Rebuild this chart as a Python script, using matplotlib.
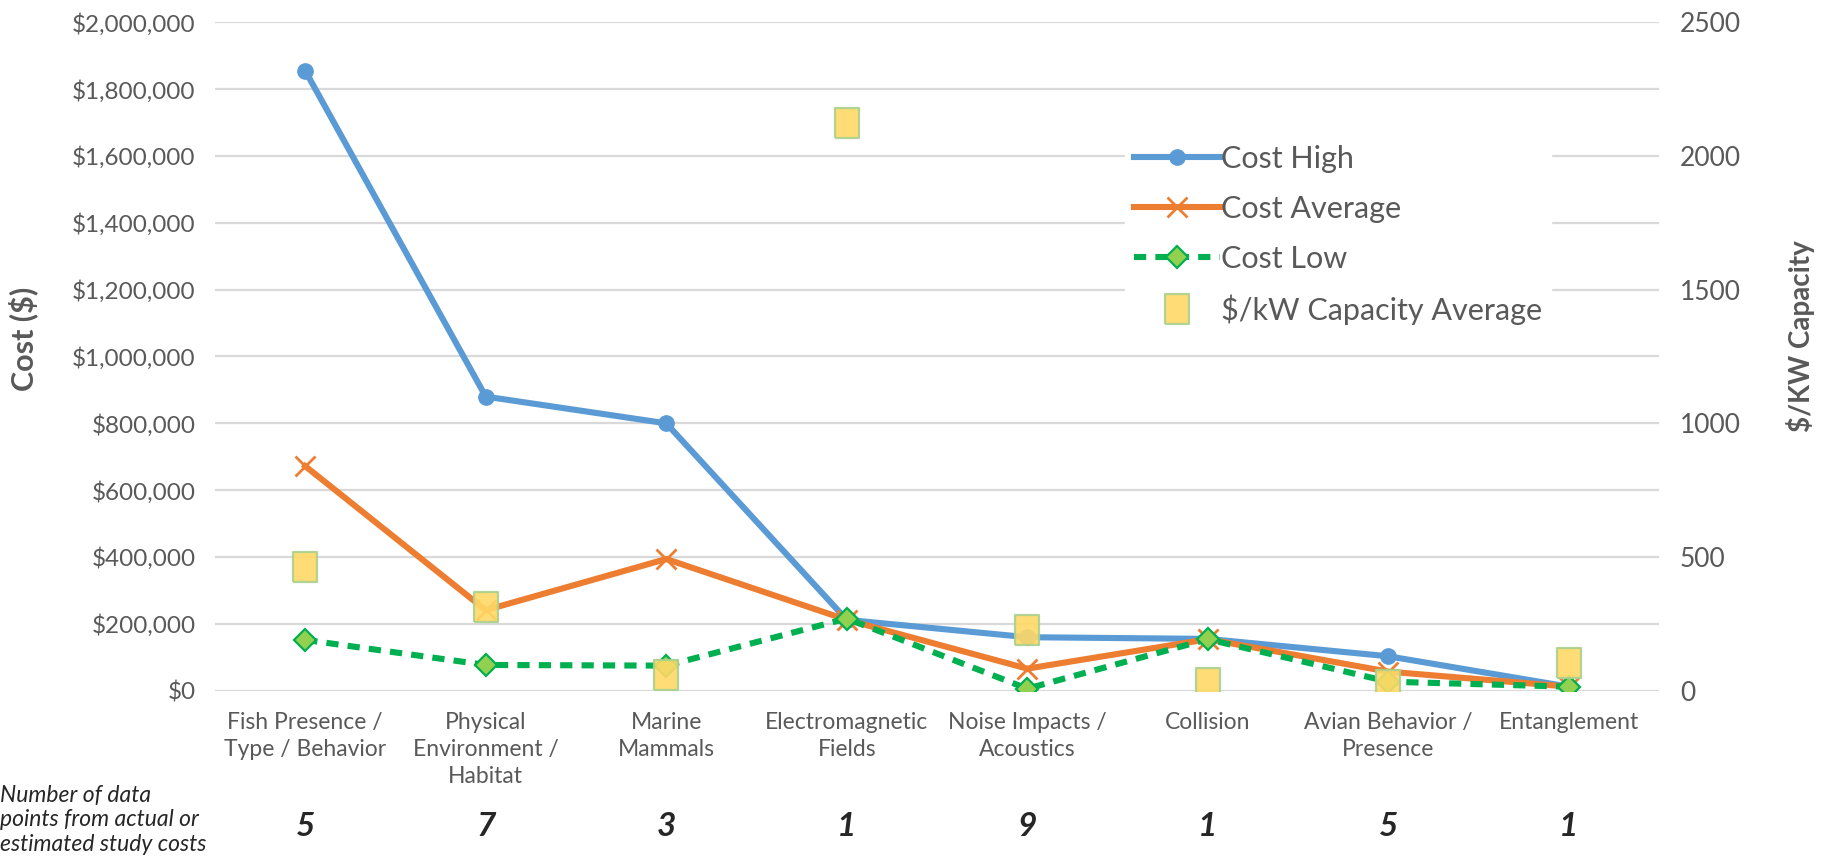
# Cost of environmental studies by receptor, with $/kW capacity on a second axis
import matplotlib
matplotlib.use('Agg')
import matplotlib.pyplot as plt
from matplotlib.ticker import FuncFormatter
from matplotlib.transforms import blended_transform_factory

plt.rcParams['font.family'] = ['Lato', 'DejaVu Sans']

categories = ['Fish Presence /\nType / Behavior', 'Physical\nEnvironment /\nHabitat',
              'Marine\nMammals', 'Electromagnetic\nFields', 'Noise Impacts /\nAcoustics',
              'Collision', 'Avian Behavior /\nPresence', 'Entanglement']
cost_high = [1855000, 880000, 800000, 212000, 160000, 155000, 103000, 12000]
cost_avg = [672000, 241000, 394000, 212000, 66000, 154000, 57000, 12000]
cost_low = [152000, 77000, 75000, 216000, 6000, 154000, 27000, 12000]
kw_avg = [461, 314, 59, 2125, 227, 30, 21, 102]
n_points = [5, 7, 3, 1, 9, 1, 5, 1]

grey = '#595959'
x = list(range(len(categories)))

fig = plt.figure(figsize=(18.28, 8.58), dpi=100)
ax = fig.add_axes([0.1176, 0.195, 0.79, 0.779])
ax2 = ax.twinx()

# tall square like the one in the original (it was squeezed sideways)
tall_sq = [(-0.78, -1), (0.78, -1), (0.78, 1), (-0.78, 1), (-0.78, -1)]

ax.plot(x, cost_high, color='#5B9BD5', lw=4.4, marker='o', ms=11, label='Cost High', zorder=3)
ax.plot(x, cost_avg, color='#ED7D31', lw=4.4, marker='x', ms=15, mew=2, label='Cost Average', zorder=3)
ax.plot(x, cost_low, color='#00B050', lw=4.4, ls=(0, (2.0, 1.5)), marker='D', ms=11,
        mfc='#92D050', mec='#00B050', mew=1.6, label='Cost Low', zorder=3)
ax2.plot(x, kw_avg, ls='none', marker=tall_sq, ms=22, mfc='#FFD966', mec='#A9D18E', mew=1.6,
         alpha=0.9, label='$/kW Capacity Average')

ax.set_xlim(-0.5, len(categories) - 0.5)
ax.set_ylim(0, 2000000)
ax2.set_ylim(0, 2500)
ax.set_yticks(range(0, 2000001, 200000))
ax2.set_yticks(range(0, 2501, 500))
ax.yaxis.set_major_formatter(FuncFormatter(lambda v, p: '${:,.0f}'.format(v)))
ax.set_xticks(x)
ax.set_xticklabels(categories, fontsize=16.5, color=grey, linespacing=1.38)

ax.grid(axis='y', color='#D9D9D9', lw=1.6)
ax.set_axisbelow(True)
for a in (ax, ax2):
    for s in a.spines.values():
        s.set_visible(False)
ax.tick_params(axis='x', length=0, pad=15)
ax.tick_params(axis='y', length=0, pad=14, labelsize=17.5, labelcolor=grey)
ax2.tick_params(axis='y', length=0, pad=15, labelsize=19, labelcolor=grey)

ax.set_ylabel('Cost ($)', fontsize=22, color=grey, fontweight='bold', va='center')
ax.yaxis.set_label_coords(-0.133, 0.526)
ax2.set_ylabel('$/KW Capacity', fontsize=20, color=grey, fontweight='bold', rotation=90, va='center')
ax2.yaxis.set_label_coords(1.098, 0.53)

h1, l1 = ax.get_legend_handles_labels()
h2, l2 = ax2.get_legend_handles_labels()
leg = ax2.legend(h1 + h2, l1 + l2, loc='upper left', bbox_to_anchor=(0.607, 0.86, 0, 0),
                 bbox_transform=fig.transFigure, fontsize=22, handlelength=2.8,
                 handletextpad=0.05, labelspacing=0.72, frameon=True, framealpha=1,
                 borderpad=0.3)
leg.get_frame().set_edgecolor('white')
for t in leg.get_texts():
    t.set_color(grey)

fig.text(0.0, 0.0443, 'Number of data\npoints from actual or\nestimated study costs',
         fontsize=16.5, style='italic', color='#262626', linespacing=1.2, va='center')
count_tr = blended_transform_factory(ax.transData, fig.transFigure)
for i, n in enumerate(n_points):
    ax.text(i, 0.037, str(n), transform=count_tr, fontsize=24, fontweight='bold',
            style='italic', color='#262626', ha='center', va='center')

fig.savefig('out.png', dpi=100)
